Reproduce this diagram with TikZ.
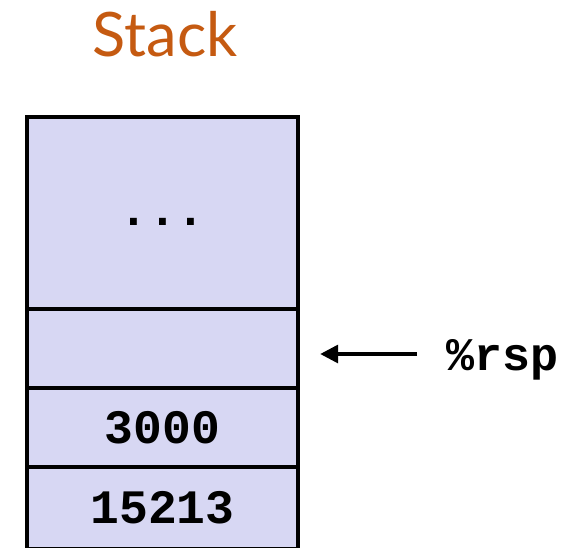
\documentclass[tikz,border=0pt]{standalone}
\usepackage{fontspec}
\setmainfont{Lato}
\setmonofont{Liberation Mono}
\usepackage{tikz}
\usetikzlibrary{positioning,arrows.meta}
\definecolor{stackorange}{RGB}{197,90,17}
\definecolor{cellfill}{RGB}{215,215,243}

\begin{document}
\begin{tikzpicture}[
    x=0.75pt, y=-0.75pt,
    node distance=0pt,
    cell/.style={draw, line width=3.4pt, fill=cellfill, outer sep=0pt,
                 minimum width=203.25pt, minimum height=59.25pt,
                 inner sep=0pt, font=\ttfamily\bfseries\fontsize{36}{36}\selectfont},
    arr/.style={-{Triangle[length=13.5pt,width=13pt]}, line width=3.4pt}
  ]
    \useasboundingbox (0,0) rectangle (571,547);
    \clip (0,0) rectangle (571,547);
    \node[anchor=base, text=stackorange, font=\fontsize{46}{46}\selectfont]
      (title) at (165,56) {Stack};
    \node[cell, minimum height=144pt, anchor=north] (top) at (162.5,117)
      {\raisebox{-9pt}[0pt][0pt]{...}};
    \node[cell, below=of top] (sp) {};
    \node[cell, below=of sp] (ret) {3000};
    \node[cell, below=of ret, minimum height=61.5pt] (old) {15213};
    \node[anchor=base west, font=\ttfamily\bfseries\fontsize{35}{35}\selectfont]
      (rsp) at (442,370) {\%rsp};
    \coordinate (tail) at (417,354);
    \draw[arr] (tail) -- (tail -| sp.east) [shorten >=16.5pt];
  \end{tikzpicture}
\end{document}
